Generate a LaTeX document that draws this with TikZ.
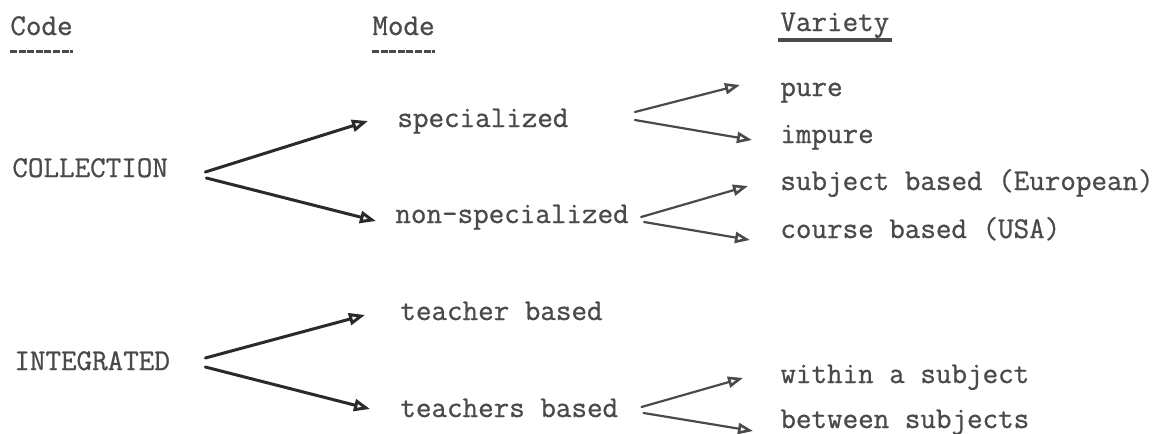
\documentclass[tikz,border=0pt]{standalone}
\usepackage{fontspec}
\newfontfamily\typer[FakeBold=0.8]{Latin Modern Mono}
\usetikzlibrary{arrows.meta}
\definecolor{ink}{HTML}{4A4A4A}
\definecolor{darkink}{HTML}{2A2A2A}
\tikzset{
  lbl/.style={anchor=base west, inner sep=0pt, text=ink,
    font=\typer\fontsize{15.1}{18}\selectfont},
  firstarrow/.style={draw=darkink, line width=1.5pt, line cap=round,
    -{Triangle[open, length=8pt, width=6pt, line width=1.5pt]}},
  secondarrow/.style={draw=ink, line width=1.1pt, line cap=round,
    -{Triangle[open, length=7.5pt, width=5.5pt, line width=1.3pt]}},
  dashline/.style={draw=ink, line width=1.5pt, dash pattern=on 3.5pt off 0.8pt},
  solidline/.style={draw=ink, line width=1.8pt}
}
\begin{document}
\begin{tikzpicture}[x=0.5pt, y=-0.5pt]
\useasboundingbox[fill=white] (0,0) rectangle (1164,434);

% column headings
\node[lbl] (code) at (10,35) {Code};
\node[lbl] (mode) at (372,35) {Mode};
\node[lbl] (var)  at (780,31) {Variety};
\draw[dashline] ([shift={(0,16)}]code.base west) -- ([shift={(0,16)}]code.base east);
\draw[dashline] ([shift={(0,16)}]mode.base west) -- ([shift={(0,16)}]mode.base east);
\draw[solidline] ([shift={(-2,9)}]var.base west) -- ([shift={(2,9)}]var.base east);

% codes
\node[lbl] (coll)  at (12,177) {COLLECTION};
\node[lbl] (integ) at (14,370) {INTEGRATED};

% modes
\node[lbl] (spec)     at (397,127) {specialized};
\node[lbl] (nspec)    at (395,223) {non-specialized};
\node[lbl] (teacher)  at (400,320) {teacher based};
\node[lbl] (teachers) at (400,417) {teachers based};

% varieties
\node[lbl] (pure)    at (780,96)  {pure};
\node[lbl] (impure)  at (780,143) {impure};
\node[lbl] (subj)    at (780,190) {subject based (European)};
\node[lbl] (course)  at (780,238) {course based (USA)};
\node[lbl] (within)  at (780,383) {within a subject};
\node[lbl] (between) at (780,428) {between subjects};

% code -> mode
\draw[firstarrow] ([shift={(37,-5)}]coll.base east) -- ([shift={(-29,-6)}]spec.base west);
\draw[firstarrow] ([shift={(38,1)}]coll.base east) -- ([shift={(-19,-2)}]nspec.base west);
\draw[firstarrow] ([shift={(35,-12)}]integ.base east) -- ([shift={(-35,-5)}]teacher.base west);
\draw[firstarrow] ([shift={(35,-3)}]integ.base east) -- ([shift={(-30,-8)}]teachers.base west);

% mode -> variety
\draw[secondarrow] ([shift={(66,-15)}]spec.base east) -- ([shift={(-40,-11)}]pure.base west);
\draw[secondarrow] ([shift={(66,-7)}]spec.base east) -- ([shift={(-28,-3)}]impure.base west);
\draw[secondarrow] ([shift={(12,-6)}]nspec.base east) -- ([shift={(-32,-4)}]subj.base west);
\draw[secondarrow] ([shift={(15,-1)}]nspec.base east) -- ([shift={(-30,2)}]course.base west);
\draw[secondarrow] ([shift={(23,-10)}]teachers.base east) -- ([shift={(-37,-5)}]within.base west);
\draw[secondarrow] ([shift={(25,-4)}]teachers.base east) -- ([shift={(-27,3)}]between.base west);
\end{tikzpicture}
\end{document}
